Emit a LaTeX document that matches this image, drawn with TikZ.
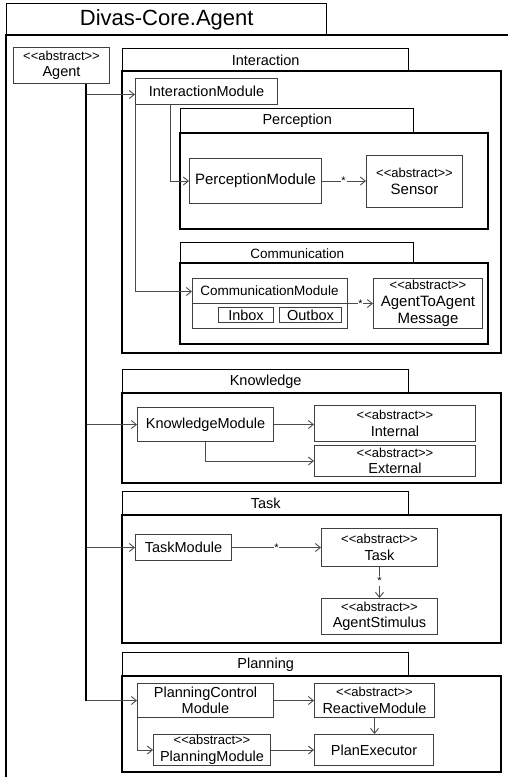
\documentclass[tikz,border=0pt]{standalone}
\usepackage{fontspec}
\setmainfont{Liberation Sans}
\usetikzlibrary{arrows.meta}
% kerns keep the font mapping from turning << and >> into guillemets
\newcommand\abst{<\kern0pt<abstract>\kern0pt>}
\newcommand\smallab{\fontsize{13}{16}\selectfont}
\begin{document}
\begin{tikzpicture}[x=1pt,y=-1pt,
  box/.style={draw=black!75, line width=1pt, fill=white, anchor=north west,
    inner sep=0pt, align=center, font=\fontsize{14.5}{16.5}\selectfont},
  tab/.style={draw=black, line width=1.4pt, anchor=north west, inner sep=0pt,
    font=\fontsize{14.5}{16}\selectfont},
  pkg/.style={draw=black, line width=1.4pt},
  conn/.style={draw=black!70, line width=0.9pt},
  arr/.style={conn, -{Straight Barb[length=5pt,width=8pt]}},
  trunk/.style={draw=black, line width=1.6pt},
  star/.style={fill=white, inner sep=0.8pt, font=\fontsize{11}{11}\selectfont}]
\useasboundingbox (0,0) rectangle (508,777);
\fill[white] (0,0) rectangle (508,777);
\begin{scope}
\clip (0,0) rectangle (508,777);
% outer package Divas-Core.Agent
\node[tab, minimum width=320pt, minimum height=32pt, font=\fontsize{22}{24}\selectfont]
  (coreTab) at (6,3) {Divas-Core.Agent};
\draw[pkg] (520,35) -- (6,35) -- (6,790);
\end{scope}

% Interaction package
\node[tab, minimum width=286pt, minimum height=23pt] (interTab) at (122,48) {Interaction};
\draw[pkg] (122,71) rectangle (501,353);
% Perception package
\node[tab, minimum width=233pt, minimum height=25pt] (percTab) at (180,108) {Perception};
\draw[pkg] (180,133) rectangle (488,229);
% Communication package
\node[tab, minimum width=233pt, minimum height=21pt, font=\fontsize{13.5}{15}\selectfont]
  (commTab) at (180,242) {Communication};
\draw[pkg] (180,263) rectangle (488,344);
% Knowledge package
\node[tab, minimum width=286pt, minimum height=24pt] (knowTab) at (122,369) {Knowledge};
\draw[pkg] (122,393) rectangle (501,483);
% Task package
\node[tab, minimum width=286pt, minimum height=24pt] (taskTab) at (122,491) {Task};
\draw[pkg] (122,515) rectangle (501,643);
% Planning package
\node[tab, minimum width=286pt, minimum height=24pt] (planTab) at (122,652) {Planning};
\draw[pkg] (122,676) rectangle (501,772);

% classes
\node[box, minimum width=96pt, minimum height=36pt] (agent) at (13,47)
  {{\smallab\abst}\\Agent};
\node[box, minimum width=142pt, minimum height=26pt] (imod) at (135,78) {InteractionModule};
\node[box, minimum width=132pt, minimum height=45pt, font=\fontsize{15}{17}\selectfont]
  (pmod) at (189,158) {PerceptionModule};
\node[box, minimum width=96pt, minimum height=52pt, font=\fontsize{15}{16.5}\selectfont]
  (sensor) at (366,155) {{\smallab\abst}\\Sensor};
\node[box, minimum width=155pt, minimum height=50pt] (cmod) at (192,278) {};
\node[font=\fontsize{13.5}{15}\selectfont, inner sep=0pt] (cmodName) at (269.5,290.5)
  {CommunicationModule};
\draw[draw=black!75, line width=1pt] (cmod.west |- 0,303) -- (cmod.east |- 0,303);
\node[box, minimum width=55pt, minimum height=15pt] (inbox) at (218,307) {Inbox};
\node[box, minimum width=62pt, minimum height=15pt] (outbox) at (279,307) {Outbox};
\node[box, minimum width=109pt, minimum height=50pt, font=\fontsize{15}{17}\selectfont]
  (a2a) at (373,278) {{\smallab\abst}\\AgentToAgent\\Message};
\node[box, minimum width=136pt, minimum height=34pt] (kmod) at (137,407) {KnowledgeModule};
\node[box, minimum width=161pt, minimum height=36pt] (internal) at (314,405)
  {{\smallab\abst}\\Internal};
\node[box, minimum width=161pt, minimum height=31pt] (external) at (314,445)
  {{\smallab\abst}\\External};
\node[box, minimum width=96pt, minimum height=26pt] (tmod) at (135,534) {TaskModule};
\node[box, minimum width=116pt, minimum height=38pt] (task) at (321,528)
  {{\smallab\abst}\\Task};
\node[box, minimum width=116pt, minimum height=36pt] (stim) at (321,598)
  {{\smallab\abst}\\AgentStimulus};
\node[box, minimum width=136pt, minimum height=34pt] (pcm) at (137,683)
  {PlanningControl\\Module};
\node[box, minimum width=120pt, minimum height=34pt] (reactive) at (314,683)
  {{\smallab\abst}\\ReactiveModule};
\node[box, minimum width=117pt, minimum height=31pt] (planmod) at (153,734)
  {{\smallab\abst}\\PlanningModule};
\node[box, minimum width=119pt, minimum height=31pt] (exec) at (314,734) {PlanExecutor};

% agent trunk and its branches
\coordinate (t0) at ([xshift=73pt]agent.south west);
\draw[arr] (t0) |- ([yshift=-3pt]imod.west);
\draw[arr] (t0) |- (kmod.west);
\draw[arr] (t0) |- (tmod.west);
\draw[arr] (t0) |- (pcm.west);
\draw[trunk] (t0) -- (t0 |- pcm.west);

% interaction
\draw[arr] ([xshift=35pt]imod.south west) |- (pmod.west);
\draw[arr] (imod.south west) |- ([yshift=12pt]cmod.west);
\draw[arr] (pmod.east) -- node[star, pos=0.49] {*} (sensor.west |- pmod.east);
\draw[arr] (cmod.east) -- node[star, pos=0.5] {*} (a2a.west);

% knowledge
\draw[arr] (kmod.east) -- (internal.west |- kmod.east);
\draw[arr] ([xshift=68pt]kmod.south west) |- (external.west);

% task
\draw[arr] (tmod.east) -- node[star, pos=0.5] {*} (task.west |- tmod.east);
\draw[arr] (task.south) -- node[star, pos=0.45] {*} (stim.north);

% planning
\draw[arr] (pcm.east) -- (reactive.west);
\draw[arr] (pcm.south west) |- (planmod.west);
\draw[arr] (reactive.south) -- (exec.north -| reactive.south);
\draw[arr] (planmod.east) -- (exec.west);
\end{tikzpicture}
\end{document}
